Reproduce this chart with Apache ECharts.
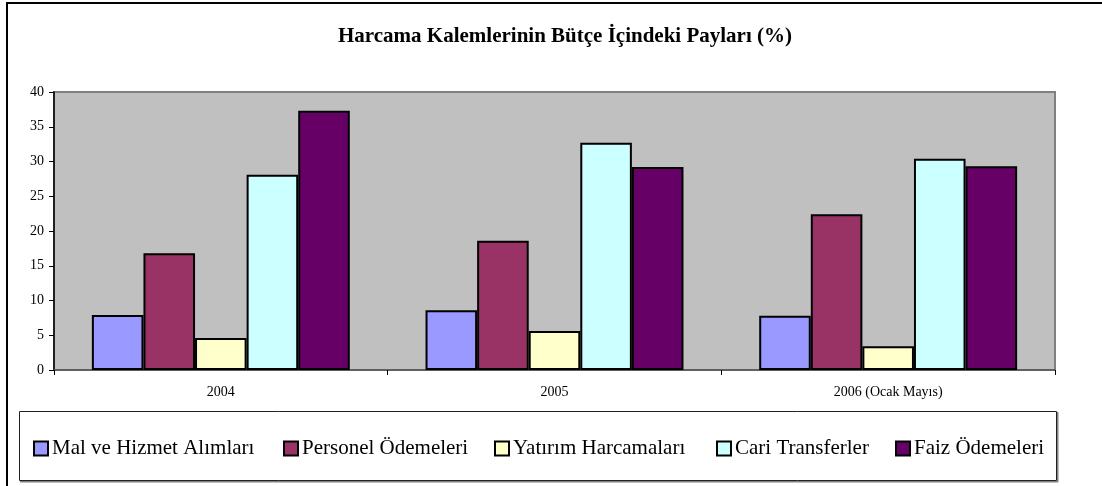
<!DOCTYPE html>
<html>
<head>
<meta charset="utf-8">
<script src="https://cdn.jsdelivr.net/npm/echarts@6/dist/echarts.min.js"></script>
<style>html,body{margin:0;padding:0;background:#fff}#c{width:1102px;height:486px}</style>
</head>
<body>
<div id="c"></div>
<script>
const categories = ['2004', '2005', '2006 (Ocak Mayıs)'];
const seriesNames = ['Mal ve Hizmet Alımları', 'Personel Ödemeleri', 'Yatırım Harcamaları', 'Cari Transferler', 'Faiz Ödemeleri'];
const malHizmet = [7.9, 8.6, 7.8];
const personel = [16.8, 18.6, 22.4];
const yatirim = [4.6, 5.6, 3.4];
const cariTransfer = [28.1, 32.7, 30.4];
const faiz = [37.3, 29.2, 29.3];
const yTicks = [0, 5, 10, 15, 20, 25, 30, 35, 40];
const colors = ['#9999FF', '#993366', '#FFFFCC', '#CCFFFF', '#660066'];
const values = [malHizmet, personel, yatirim, cariTransfer, faiz];
const legendLeft = [33, 283, 494, 716, 895];

const FONT = '"Liberation Serif", "Times New Roman", serif';
const chart = echarts.init(document.getElementById('c'));
chart.setOption({
  animation: false,
  backgroundColor: '#fff',
  title: {
    text: 'Harcama Kalemlerinin Bütçe İçindeki Payları (%)',
    left: 560, top: 21, textAlign: 'center',
    textStyle: { fontFamily: FONT, fontSize: 21, fontWeight: 'bold', color: '#000' }
  },
  legend: seriesNames.map((n, i) => ({
    data: [n], left: legendLeft[i], top: 438, padding: 0,
    itemWidth: 14, itemHeight: 14, itemGap: 0, icon: 'rect',
    textStyle: { fontFamily: FONT, fontSize: 21, color: '#000', padding: [0, 0, 0, -1] },
    selectedMode: false
  })),
  grid: {
    left: 54, right: 47, top: 92, bottom: 116,
    show: true, backgroundColor: '#C0C0C0', borderColor: '#808080', borderWidth: 2
  },
  xAxis: {
    type: 'category', data: categories,
    axisLine: { lineStyle: { color: '#555', width: 1.5 } },
    axisTick: { show: true, length: 5, inside: false, alignWithLabel: false, lineStyle: { color: '#000' } },
    axisLabel: { fontFamily: FONT, fontSize: 14, color: '#000', margin: 15 }
  },
  yAxis: {
    type: 'value', min: yTicks[0], max: yTicks[yTicks.length - 1], interval: 5,
    axisLine: { show: true, lineStyle: { color: '#000', width: 1.5 } },
    axisTick: { show: true, length: 5, lineStyle: { color: '#000' } },
    splitLine: { show: false },
    axisLabel: { fontFamily: FONT, fontSize: 14, color: '#000', margin: 10 }
  },
  series: seriesNames.map((n, i) => ({
    name: n, type: 'bar', data: values[i],
    barGap: '0%', barCategoryGap: '22.7%',
    itemStyle: { color: colors[i], borderColor: '#000', borderWidth: 2 }
  })),
  graphic: [
    { type: 'rect', shape: { x: 7, y: 3, width: 1200, height: 600 }, style: { fill: 'none', stroke: '#000', lineWidth: 2 }, z: 100 },
    { type: 'rect', shape: { x: 20, y: 481, width: 1038, height: 1.5 }, style: { fill: '#808080' }, z: 99 },
    { type: 'rect', shape: { x: 1057, y: 412, width: 1.5, height: 70 }, style: { fill: '#808080' }, z: 99 },
    { type: 'rect', shape: { x: 19.5, y: 411.5, width: 1037, height: 69 }, style: { fill: 'none', stroke: '#222', lineWidth: 1 }, z: 100 }
  ]
});
</script>
</body>
</html>
